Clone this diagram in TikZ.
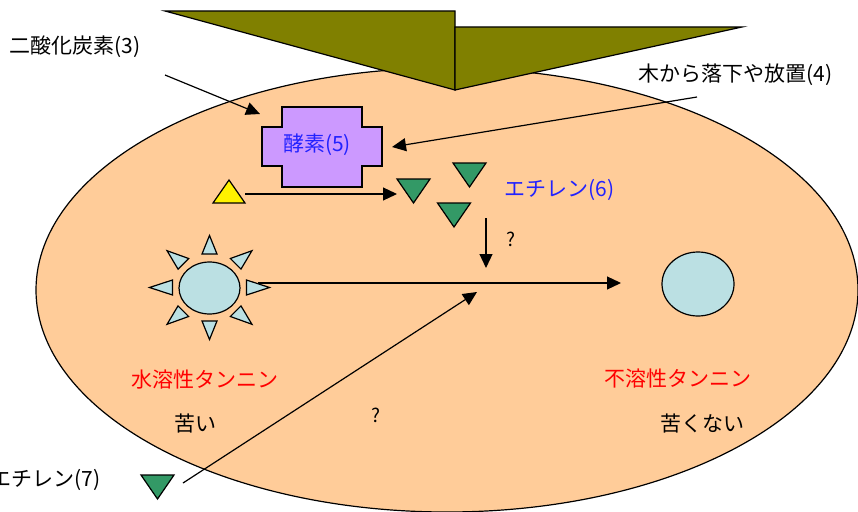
\documentclass[tikz,border=0pt]{standalone}
\usepackage{fontspec}
\setmainfont{Noto Sans CJK JP}
\usetikzlibrary{arrows.meta,shapes.geometric}
\definecolor{skin}{HTML}{FFCC99}
\definecolor{olivef}{HTML}{808000}
\definecolor{enzf}{HTML}{CC99FF}
\definecolor{ballf}{HTML}{BBE0E3}
\definecolor{ethf}{HTML}{339966}
\definecolor{txtblue}{HTML}{2222FF}
\definecolor{txtred}{HTML}{FF0000}
\newcommand\downtri[3]{%
  \draw[outl,fill=ethf] ({#1-16.5},{#2-12}) -- ({#1+16.5},{#2-12}) -- (#1,{#2+12}) -- cycle;
  \coordinate (#3) at (#1,#2);}
\begin{document}
\begin{tikzpicture}[x=1pt,y=-1pt,line width=1.2pt,
  lbl/.style={font=\fontsize{21}{25}\selectfont,inner sep=0pt},
  qm/.style={font=\fontsize{19}{22}\selectfont,inner sep=0pt},
  arr/.style={-{Triangle[length=14pt,width=13pt]},line width=1.2pt},
  outl/.style={draw=black,line width=1.2pt,line join=miter}]
\useasboundingbox (0,0) rectangle (858,511);
\clip (0,0) rectangle (858,511);
% persimmon body
\draw[outl,fill=skin] (447,290) ellipse [x radius=411,y radius=222];
% calyx
\draw[outl,fill=olivef] (165,11) -- (455,11) -- (455,90) -- cycle;
\draw[outl,fill=olivef] (455,27) -- (742,27) -- (455,90) -- cycle;
% enzyme
\draw[outl,fill=enzf] (282,107) -- (362,107) -- (362,127) -- (382,127) -- (382,166) -- (362,166)
  -- (362,187) -- (282,187) -- (282,166) -- (262,166) -- (262,127) -- (282,127) -- cycle;
\node[lbl,text=txtblue] (enz) at (317,145) {酵素(5)};
\coordinate (enzTL) at (260,114);
\coordinate (enzR) at (392,147);
% labels
\node[lbl,anchor=west] (co2) at (9,47) {二酸化炭素(3)};
\node[lbl,anchor=east] (wood) at (833,75) {木から落下や放置(4)};
\coordinate (co2s) at (165,75);
\coordinate (woods) at (697,97);
\draw[arr] (co2s) -- (enzTL);
\draw[arr] (woods) -- (enzR);
% yellow triangle
\draw[outl,fill=yellow] (213,203) -- (245,203) -- (229,180) -- cycle;
\coordinate (yel) at (245,194);
\coordinate (ethin) at (397,194);
\draw[arr] (yel) -- (ethin);
% ethylene (6)
\downtri{413.5}{191}{ethA}
\downtri{469.5}{175}{ethB}
\downtri{454}{215}{ethC}
\node[lbl,text=txtblue,anchor=west] (eth6) at (504,190) {エチレン(6)};
\coordinate (dtop) at (486,218);
\coordinate (dbot) at (486,268);
\draw[arr] (dtop) -- (dbot);
\node[qm] (q1) at (511,239) {?};
% sun (soluble tannin)
\foreach \a in {0,45,...,315}{
  \draw[outl,fill=ballf]
    ({209.5+60*cos(\a)},{287.5+52*sin(\a)}) --
    ({209.5+37*cos(\a)-7.5*sin(\a)},{287.5+33.5*sin(\a)+7.5*cos(\a)}) --
    ({209.5+37*cos(\a)+7.5*sin(\a)},{287.5+33.5*sin(\a)-7.5*cos(\a)}) -- cycle;
}
\node[ellipse,outl,fill=ballf,minimum width=61pt,minimum height=52pt,inner sep=0pt] (sol) at (209.5,288) {};
\node[ellipse,outl,fill=ballf,minimum width=72pt,minimum height=64pt,inner sep=0pt] (insol) at (698,284) {};
\coordinate (hs) at (258,283);
\coordinate (he) at (621,283);
\draw[arr] (hs) -- (he);
% texts
\node[lbl,text=txtred] (solt) at (205,380) {水溶性タンニン};
\node[lbl] (bit) at (195,424) {苦い};
\node[qm] (q2) at (376,415) {?};
\node[lbl,text=txtred] (insolt) at (678,379) {不溶性タンニン};
\node[lbl] (nbit) at (702,424) {苦くない};
% ethylene (7)
\node[lbl,anchor=east] (eth7) at (101,480) {エチレン(7)};
\downtri{157.5}{487}{ethD}
\coordinate (ds) at (183,483);
\coordinate (de) at (477,292);
\draw[arr] (ds) -- (de);
\end{tikzpicture}
\end{document}
